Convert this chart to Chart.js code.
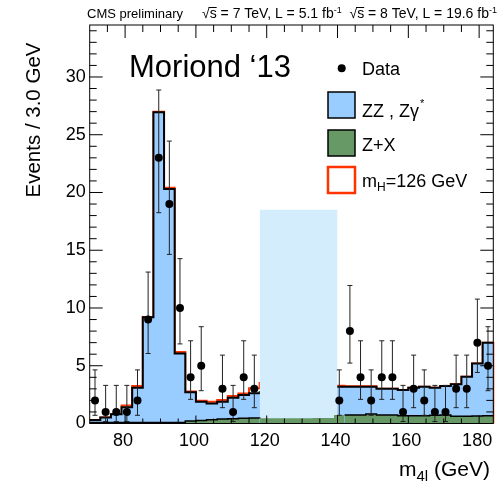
<!DOCTYPE html>
<html>
<head>
<meta charset="utf-8">
<script src="https://cdn.jsdelivr.net/npm/chart.js"></script>
<style>
  html, body { margin: 0; padding: 0; background: #fff; }
</style>
</head>
<body>
<canvas id="myChart" width="504" height="481"></canvas>
<script>
// m4l bins, 3 GeV wide (low edges)
const binLow = [70,73,76,79,82,85,88,91,94,97,100,103,106,109,112,115,118,121,124,127,
                130,133,136,139,142,145,148,151,154,157,160,163,166,169,172,175,178,181];
const binHigh = 184;

// background Z+X
const zxVals = [0.08,0.08,0.08,0.08,0.08,0.08,0.08,0.08,0.08,0.22,0.27,0.33,0.39,0.42,0.45,0.48,
                0.45,0.45,0.46,0.46,0.46,0.47,0.47,
                0.74,0.74,0.74,0.82,0.74,0.74,0.68,0.67,0.67,0.72,0.74,0.62,0.62,0.65,0.67];
// ZZ , Zgamma*
const zzVals = [0.22,0.44,0.72,1.32,3.02,9.12,26.87,20.22,5.99,2.48,1.62,1.41,1.50,1.82,2.02,2.13,
                2.25,2.30,2.34,2.39,2.44,2.53,2.63,
                2.44,2.44,2.44,2.36,2.27,2.27,2.22,2.43,2.51,2.38,2.50,2.77,3.43,4.55,6.32];
// mH = 126 GeV signal
const sigVals = [0,0,0,0.15,0.15,0.02,0.05,0.12,0.11,0.06,0.08,0.15,0.14,0.14,0.13,0.44,
                 0.8,1.8,3.2,2.4,0.9,0.3,0.15,
                 0.08,0.05,0.04,0.04,0,0,0,0,0,0,0,0,0,0,0];
// observed events (null = blinded)
const dataVals = [2,1,1,1,2,9,23,19,10,4,5,0,3,1,4,3,
                  null,null,null,null,null,null,null,
                  2,8,4,2,4,4,1,3,2,1,1,3,3,7,5];
const dataLo = [0.71,0.17,0.17,0.17,0.71,6.06,18.25,14.64,6.89,2.09,2.84,null,1.37,0.17,2.09,1.37,
                null,null,null,null,null,null,null,
                0.71,5.23,2.09,0.71,2.09,2.09,0.17,1.37,0.71,0.17,0.17,1.37,1.37,4.42,2.84];
const dataHi = [4.64,3.30,3.30,3.30,4.64,13.11,28.87,24.45,14.27,7.16,8.38,null,5.92,3.30,7.16,5.92,
                null,null,null,null,null,null,null,
                4.64,11.95,7.16,4.64,7.16,7.16,3.30,5.92,4.64,3.30,3.30,5.92,5.92,10.77,8.38];

const blindRange = [118, 140];
const blindTop = 18.5;

const xTicks = [80,100,120,140,160,180];
const yTicks = [0,5,10,15,20,25,30];

const FONT = "'Liberation Sans', Arial, Helvetica, sans-serif";
const C_ZZ = '#99ccff', C_ZX = '#669966', C_SIG = '#ff3300', C_BLIND = '#d3edfd';

// stacking
const zxTop = zxVals.slice();
const zzTop = zzVals.map((v, i) => v + zxVals[i]);
const sigTop = sigVals.map((v, i) => v + zzTop[i]);

function steps(vals) {
  const pts = binLow.map((x, i) => ({x: x, y: vals[i]}));
  pts.push({x: binHigh, y: vals[vals.length - 1]});
  return pts;
}

const dataPts = [];
binLow.forEach((x, i) => {
  if (dataVals[i] != null && dataVals[i] > 0) dataPts.push({x: x + 1.5, y: dataVals[i], i: i});
});

const sigPts = steps(sigTop);
sigPts.push({x: binHigh, y: 0});

const inBlind = x => x >= blindRange[0] && x < blindRange[1];

const decor = {
  id: 'decor',
  beforeDatasetDraw(chart, args) {
    if (args.index !== 0) return;
    // error bars under the markers
    const ctx = chart.ctx, xs = chart.scales.x, ys = chart.scales.y;
    ctx.save();
    ctx.strokeStyle = '#222';
    ctx.lineWidth = 1;
    dataPts.forEach(p => {
      const x = xs.getPixelForValue(p.x);
      const y1 = ys.getPixelForValue(dataLo[p.i]);
      const y2 = ys.getPixelForValue(dataHi[p.i]);
      ctx.beginPath();
      ctx.moveTo(x, y1); ctx.lineTo(x, y2);
      ctx.moveTo(x - 2.5, y1); ctx.lineTo(x + 2.5, y1);
      ctx.moveTo(x - 2.5, y2); ctx.lineTo(x + 2.5, y2);
      ctx.stroke();
    });
    ctx.restore();
  },
  afterDatasetsDraw(chart) {
    const ctx = chart.ctx, ca = chart.chartArea;
    const xs = chart.scales.x, ys = chart.scales.y;
    ctx.save();
    ctx.strokeStyle = '#000';
    ctx.lineWidth = 1;
    ctx.strokeRect(ca.left, ca.top, ca.right - ca.left, ca.bottom - ca.top);
    ctx.beginPath();
    for (let v = 1; v <= 34; v++) {
      const y = ys.getPixelForValue(v);
      const len = v % 5 === 0 ? 13 : 7;
      ctx.moveTo(ca.left, y); ctx.lineTo(ca.left + len, y);
      ctx.moveTo(ca.right, y); ctx.lineTo(ca.right - len, y);
    }
    for (let v = 75; v < 184; v += 5) {
      const x = xs.getPixelForValue(v);
      const major = v % 20 === 0;
      ctx.moveTo(x, ca.top); ctx.lineTo(x, ca.top + (major ? 13 : 7));
      ctx.moveTo(x, ca.bottom); ctx.lineTo(x, ca.bottom - (major ? 8 : 5));
    }
    ctx.stroke();
    ctx.restore();
  },
  afterDraw(chart) {
    const ctx = chart.ctx;
    ctx.save();
    ctx.fillStyle = '#000';
    ctx.strokeStyle = '#000';
    ctx.textBaseline = 'alphabetic';
    ctx.textAlign = 'left';

    // header
    ctx.font = '13px ' + FONT;
    ctx.fillText('CMS preliminary', 87, 18);
    let x = 202;
    const runs = [
      ['\u221A', 14], ['s', 14, 'ov'], [' = 7 TeV, L = 5.1 fb', 14], ['-1', 9, 'sup'], ['  ', 14],
      ['\u221A', 14], ['s', 14, 'ov'], [' = 8 TeV, L = 19.6 fb', 14], ['-1', 9, 'sup']
    ];
    runs.forEach(r => {
      ctx.font = r[1] + 'px ' + FONT;
      const w = ctx.measureText(r[0]).width;
      const y = r[2] === 'sup' ? 13 : 18;
      ctx.fillText(r[0], x, y);
      if (r[2] === 'ov') {
        ctx.beginPath();
        ctx.lineWidth = 1;
        ctx.moveTo(x - 1, 7.5); ctx.lineTo(x + w, 7.5);
        ctx.stroke();
      }
      x += w;
    });

    // Moriond label
    ctx.font = '31px ' + FONT;
    ctx.fillText('Moriond \u201813', 129, 77);

    // legend
    ctx.font = '18px ' + FONT;
    ctx.beginPath();
    ctx.arc(341.7, 68.3, 4, 0, 2 * Math.PI);
    ctx.fill();
    ctx.fillText('Data', 362, 75);

    ctx.lineWidth = 1.5;
    ctx.fillStyle = C_ZZ;
    ctx.fillRect(328, 92, 27, 26);
    ctx.strokeRect(328, 92, 27, 26);
    ctx.fillStyle = '#000';
    ctx.fillText('ZZ , Z\u03B3', 362, 116.7);
    let wz = ctx.measureText('ZZ , Z\u03B3').width;
    ctx.font = '11px ' + FONT;
    ctx.fillText('*', 362 + wz + 1, 107);

    ctx.font = '18px ' + FONT;
    ctx.fillStyle = C_ZX;
    ctx.fillRect(328, 130, 27, 26);
    ctx.strokeRect(328, 130, 27, 26);
    ctx.fillStyle = '#000';
    ctx.fillText('Z+X', 362, 150.7);

    ctx.fillStyle = '#fff';
    ctx.fillRect(328, 167, 27, 26);
    ctx.strokeStyle = C_SIG;
    ctx.lineWidth = 2.5;
    ctx.strokeRect(328, 167, 27, 26);
    ctx.fillStyle = '#000';
    ctx.fillText('m', 362, 186.7);
    let wm = ctx.measureText('m').width;
    ctx.font = '12px ' + FONT;
    ctx.fillText('H', 362 + wm, 190.5);
    let wh = ctx.measureText('H').width;
    ctx.font = '18px ' + FONT;
    ctx.fillText('=126 GeV', 362 + wm + wh, 186.7);

    // axis titles
    ctx.font = '20.5px ' + FONT;
    ctx.save();
    ctx.translate(34, 120);
    ctx.rotate(-Math.PI / 2);
    ctx.textAlign = 'center';
    ctx.textBaseline = 'middle';
    ctx.fillText('Events / 3.0 GeV', 0, 0);
    ctx.restore();

    ctx.font = '21px ' + FONT;
    const wM = ctx.measureText('m').width;
    ctx.font = '15px ' + FONT;
    const wS = ctx.measureText('4l').width;
    ctx.font = '21px ' + FONT;
    const wG = ctx.measureText(' (GeV)').width;
    let tx = 490 - (wM + wS + wG);
    ctx.fillText('m', tx, 476);
    ctx.font = '15px ' + FONT;
    ctx.fillText('4l', tx + wM, 480.5);
    ctx.font = '21px ' + FONT;
    ctx.fillText(' (GeV)', tx + wM + wS, 476);
    ctx.restore();
  }
};

const ctx = document.getElementById('myChart');
new Chart(ctx, {
  type: 'line',
  data: {
    datasets: [
      {
        label: 'Data',
        data: dataPts,
        showLine: false,
        pointRadius: 4,
        pointBackgroundColor: '#000',
        pointBorderColor: '#000',
        pointBorderWidth: 0
      },
      {
        label: 'Z+X',
        data: steps(zxTop),
        stepped: true,
        fill: 'origin',
        backgroundColor: C_ZX,
        borderColor: '#000',
        borderWidth: 1.5,
        pointRadius: 0,
        segment: {
          borderColor: c => inBlind(c.p0.parsed.x) ? 'rgba(0,0,0,0)' : '#000'
        }
      },
      {
        label: 'blind',
        data: [{x: blindRange[0], y: blindTop}, {x: blindRange[1], y: blindTop}],
        fill: 'origin',
        backgroundColor: C_BLIND,
        borderWidth: 0,
        pointRadius: 0
      },
      {
        label: 'ZZ',
        data: steps(zzTop),
        stepped: true,
        fill: 'origin',
        backgroundColor: C_ZZ,
        borderColor: '#000',
        borderWidth: 2,
        pointRadius: 0
      },
      {
        label: 'mH=126 GeV',
        data: sigPts,
        stepped: true,
        fill: false,
        borderColor: C_SIG,
        borderWidth: 2,
        pointRadius: 0,
        clip: 3
      }
    ]
  },
  options: {
    responsive: false,
    animation: false,
    devicePixelRatio: 1,
    layout: { padding: { left: 0, top: 25, right: 10.7, bottom: 0 } },
    plugins: { legend: { display: false }, tooltip: { enabled: false } },
    scales: {
      x: {
        type: 'linear',
        min: 70,
        max: binHigh,
        grid: { display: false, drawTicks: false },
        border: { display: false },
        ticks: { font: { size: 18, family: FONT }, color: '#000', padding: 7, labelOffset: -2, autoSkip: false, maxRotation: 0 },
        afterBuildTicks: s => { s.ticks = xTicks.map(v => ({value: v})); },
        afterFit: s => { s.height = 57.5; }
      },
      y: {
        type: 'linear',
        min: 0,
        max: 34.5,
        grid: { display: false, drawTicks: false },
        border: { display: false },
        ticks: { font: { size: 18, family: FONT }, color: '#000', padding: 4, autoSkip: false },
        afterBuildTicks: s => { s.ticks = yTicks.map(v => ({value: v})); },
        afterFit: s => { s.width = 89.7; }
      }
    }
  },
  plugins: [decor]
});
</script>
</body>
</html>
